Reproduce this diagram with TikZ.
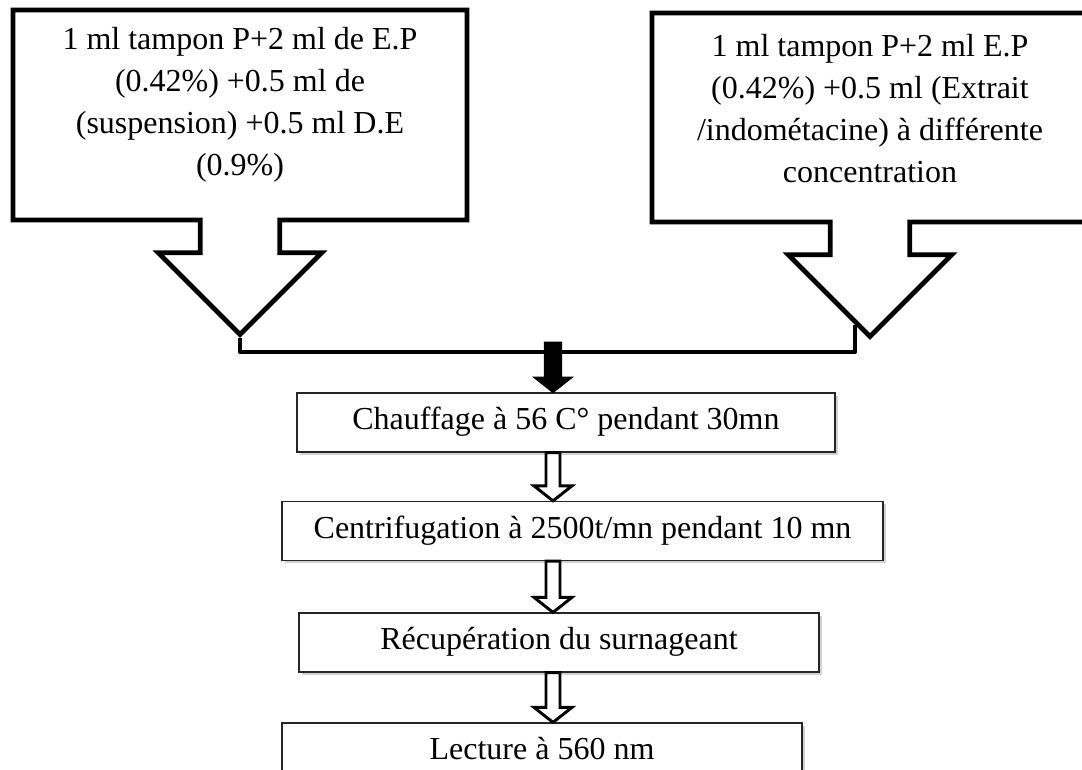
\documentclass[tikz,border=0pt]{standalone}
\usepackage{fontspec}
\setmainfont{Liberation Serif}
\usetikzlibrary{positioning,calc,shapes.arrows,shadows}

\begin{document}
\begin{tikzpicture}
[
x=0.75pt, y=-0.75pt,
call-box/.style={arrow box, draw, line width=3.6pt, align=center, inner sep=0pt,
  font=\fontsize{24}{31.5}\selectfont,
  arrow box arrows={south:84pt}, arrow box tip angle=90,
  arrow box head indent=0pt, arrow box head extend=31.5pt, arrow box shaft width=59.5pt},
step-box/.style={draw=black!85, line width=1.2pt, fill=white, inner sep=0pt,
  minimum height=44pt, text height=16pt, text depth=5pt,
  font=\fontsize{24}{31.5}\selectfont,
  drop shadow={shadow xshift=2pt, shadow yshift=-2pt, opacity=.35}},
hollow-arrow/.style={draw, line width=2.2pt, fill=white},
solid-arrow/.style={draw, line width=1pt, fill=black},
bracket/.style={line width=3pt, line join=round}
]

\useasboundingbox[fill=white] (0,0) rectangle (1082,769);

% the two mixtures
\node (call-l) [call-box, minimum width=340.5pt, minimum height=157.5pt, text depth=20pt] at (240,115)
  {1 ml tampon P+2 ml de E.P\\(0.42\%) +0.5 ml de\\(suspension) +0.5 ml D.E\\(0.9\%)};
\node (call-r) [call-box, minimum width=327pt, minimum height=156.75pt, text depth=14pt] at (870,117.5)
  {1 ml tampon P+2 ml E.P\\(0.42\%) +0.5 ml (Extrait\\/indométacine) à différente\\concentration};

% steps
\node (chauf) [step-box, minimum width=403.5pt] at (566,422.5) {Chauffage à 56 C° pendant 30mn};
\node (centr) [step-box, minimum width=450.75pt] at (582.5,531) {Centrifugation à 2500t/mn pendant 10 mn\hspace{20pt}};
\node (recup) [step-box, minimum width=390pt] at (559,642.5) {Récupération du surnageant};
\node (lect)  [step-box, minimum width=390pt] at (542,752.5) {Lecture à 560 nm};

\coordinate (axis) at (553,0);
\coordinate (join) at (553,352);

\draw [bracket] (call-l.south arrow tip) |- (join) -| ($(call-r.south arrow tip)+(-15,-15)$);

\draw [solid-arrow] (chauf.north -| axis) -- ++(-19,-15) -- ++(10.5,0) -- ++(0,-35) -- ++(17,0) -- ++(0,35) -- ++(10.5,0) -- cycle;
\draw [hollow-arrow] (centr.north -| axis) -- ++(-19,-15) -- ++(12,0) -- ($(chauf.south -| axis)+(-7,0)$) -- ++(14,0) -- ($(centr.north -| axis)+(7,-15)$) -- ++(12,0) -- cycle;
\draw [hollow-arrow] (recup.north -| axis) -- ++(-19,-15) -- ++(12,0) -- ($(centr.south -| axis)+(-7,0)$) -- ++(14,0) -- ($(recup.north -| axis)+(7,-15)$) -- ++(12,0) -- cycle;
\draw [hollow-arrow] (lect.north -| axis) -- ++(-19,-15) -- ++(12,0) -- ($(recup.south -| axis)+(-7,0)$) -- ++(14,0) -- ($(lect.north -| axis)+(7,-15)$) -- ++(12,0) -- cycle;

\end{tikzpicture}
\end{document}
